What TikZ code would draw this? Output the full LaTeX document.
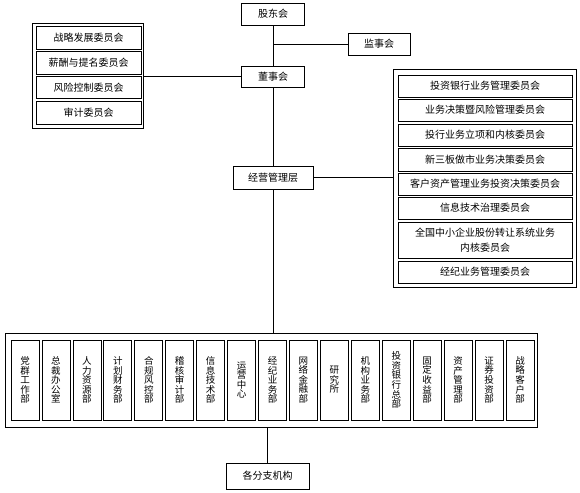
\documentclass[tikz,border=0pt]{standalone}
\usepackage{fontspec}
\newfontfamily\cjk{Noto Sans CJK SC}
\begin{document}
\begin{tikzpicture}[x=1pt,y=-1pt,
  font=\cjk\fontsize{10}{15}\selectfont,
  box/.style={draw,line width=0.7pt,inner sep=0pt,align=center},
  grp/.style={draw,line width=0.95pt,inner sep=0pt},
  dept/.style={box,minimum width=28pt,minimum height=80pt,font=\cjk\fontsize{9.5}{9.6}\selectfont},
  conn/.style={line width=0.8pt}]
\useasboundingbox (0,0) rectangle (580,492);
%\draw[help lines] (0,0) grid[step=20] (580,492);
\node[box,minimum width=63pt,minimum height=22pt] (gd) at (273,14) {股东会};
\node[box,minimum width=62pt,minimum height=22pt] (js) at (379,44) {监事会};
\node[box,minimum width=63pt,minimum height=21pt] (ds) at (273,76.5) {董事会};
\node[box,minimum width=80pt,minimum height=23pt] (jy) at (273,177.5) {经营管理层};
\node[box,minimum width=83pt,minimum height=26pt] (fz) at (267.5,476) {各分支机构};
%
\node[grp,minimum width=111pt,minimum height=105pt] (lg) at (87.5,75.5) {};
\foreach \y/\t in {38/战略发展委员会,63/薪酬与提名委员会,87.5/风险控制委员会,113/审计委员会}
\node[box,minimum width=105pt,minimum height=22.5pt] at (88.5,\y) {\t};
%
\node[grp,minimum width=183pt,minimum height=218pt] (rg) at (484.5,178) {};
\foreach \y/\h/\t in {86/22/投资银行业务管理委员会,110/22/业务决策暨风险管理委员会,
  135/22/投行业务立项和内核委员会,159.5/23/新三板做市业务决策委员会,
  184/22/客户资产管理业务投资决策委员会,208/22/信息技术治理委员会,
  240/36/{全国中小企业股份转让系统业务\\内核委员会},272/22/经纪业务管理委员会}
\node[box,minimum width=174pt,minimum height=\h pt] at (485,\y) {\t};
%
\node[grp,minimum width=532pt,minimum height=94pt] (dp) at (271,380) {};
\foreach \t [count=\i from 0] in {党\\群\\工\\作\\部,总\\裁\\办\\公\\室,人\\力\\资\\源\\部,
  计\\划\\财\\务\\部,合\\规\\风\\控\\部,稽\\核\\审\\计\\部,信\\息\\技\\术\\部,
  运\\营\\中\\心,经\\纪\\业\\务\\部,网\\络\\金\\融\\部,研\\究\\所,机\\构\\业\\务\\部,
  投\\资\\银\\行\\总\\部,固\\定\\收\\益\\部,资\\产\\管\\理\\部,证\\券\\投\\资\\部,战\\略\\客\\户\\部}
\node[dept] (d\i) at (25+\i*30.94,380) {\t};
%
\draw[conn] (gd) -- (ds);
\draw[conn] (js.west) -- (js.west -| gd.south);
\draw[conn] (ds.west -| lg.east) -- (ds.west);
\draw[conn] (ds) -- (jy);
\draw[conn] (jy.east) -- (jy.east -| rg.west);
\draw[conn] (jy.south) -- (jy.south |- dp.north);
\draw[conn] (fz.north) -- (fz.north |- dp.south);
\end{tikzpicture}
\end{document}
